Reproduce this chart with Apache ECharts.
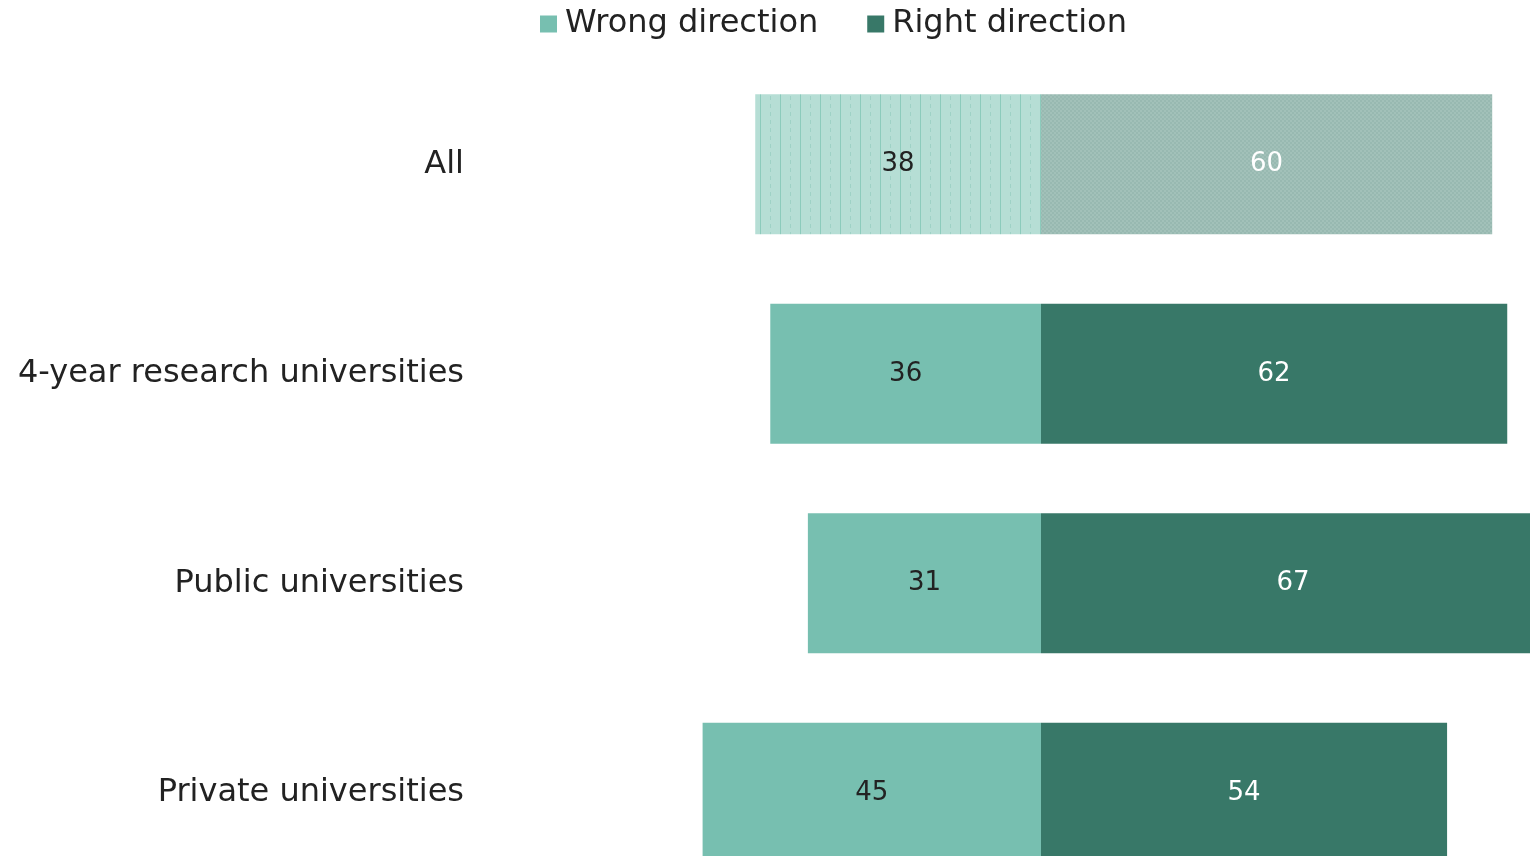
<!DOCTYPE html>
<html><head><meta charset="utf-8">
<script src="https://cdn.jsdelivr.net/npm/echarts@6/dist/echarts.min.js"></script>
<style>html,body{margin:0;padding:0;background:#fff;overflow:hidden}#c{width:1600px;height:900px}</style>
</head><body><div id="c"></div>
<script>
const categories = ["All", "4-year research universities", "Public universities", "Private universities"];
const wrongValues = [38, 36, 31, 45];
const rightValues = [60, 62, 67, 54];
const seriesNames = ["Wrong direction", "Right direction"];

function makePattern(kind) {
  const c = document.createElement('canvas');
  if (kind === 'lines') {
    c.width = 20; c.height = 8;
    const g = c.getContext('2d');
    g.fillStyle = '#b6ded5'; g.fillRect(0, 0, 20, 8);
    g.fillStyle = '#8ccbbc'; g.fillRect(0, 0, 1, 8);
    g.fillStyle = '#9fd2c6';
    g.fillRect(10, 0, 1, 4);
  } else {
    c.width = 4; c.height = 4;
    const g = c.getContext('2d');
    g.fillStyle = '#a2c1b9'; g.fillRect(0, 0, 4, 4);
    g.fillStyle = '#98b9b1'; g.fillRect(0, 0, 2, 2); g.fillRect(2, 2, 2, 2);
  }
  return { image: c, repeat: 'repeat' };
}

const FONT = 'DejaVu Sans';
const wrongData = wrongValues.map((v, i) => i === 0
  ? { value: -v, itemStyle: { color: makePattern('lines') } }
  : { value: -v });
const rightData = rightValues.map((v, i) => i === 0
  ? { value: v, itemStyle: { color: makePattern('check') } }
  : { value: v });

const chart = echarts.init(document.getElementById('c'), null, { renderer: 'canvas' });
chart.setOption({
  animation: false,
  legend: {
    top: 3, left: 535, itemGap: 49, itemWidth: 17, itemHeight: 17,
    icon: 'rect',
    textStyle: { fontFamily: FONT, fontSize: 32, color: '#222', padding: [0,0,0,3] },
    data: seriesNames
  },
  grid: { left: 665, right: 32.6, top: 59.5, bottom: 2.5, containLabel: false },
  xAxis: { type: 'value', min: -50, max: 70, show: false },
  yAxis: {
    type: 'category', data: categories, inverse: true,
    axisLine: { show: false }, axisTick: { show: false },
    axisLabel: { fontFamily: FONT, fontSize: 32, color: '#222', margin: 201 }
  },
  series: [
    {
      name: seriesNames[0], type: 'bar', stack: 's', barWidth: 140,
      itemStyle: { color: '#77bfb0' },
      label: { show: true, position: 'inside', fontFamily: FONT, fontSize: 26, color: '#222',
        formatter: p => Math.abs(p.value) },
      data: wrongData
    },
    {
      name: seriesNames[1], type: 'bar', stack: 's2', barWidth: 140, barGap: '-100%',
      itemStyle: { color: '#387868' },
      label: { show: true, position: 'inside', fontFamily: FONT, fontSize: 26, color: '#fff' },
      data: rightData
    }
  ]
});
</script></body></html>
